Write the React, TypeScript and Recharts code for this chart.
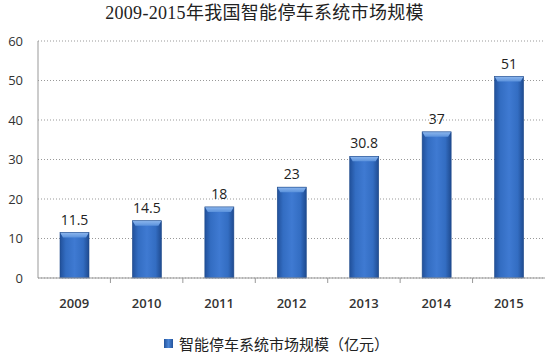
import React from 'react';
import { BarChart, Bar, XAxis, YAxis, CartesianGrid, LabelList, Legend } from 'recharts';

const years = ['2009', '2010', '2011', '2012', '2013', '2014', '2015'];
const marketSize = [11.5, 14.5, 18, 23, 30.8, 37, 51];
const yTicks = [0, 10, 20, 30, 40, 50, 60];
const title = '2009-2015年我国智能停车系统市场规模';
const seriesName = '智能停车系统市场规模（亿元）';

const data = years.map((y, i) => ({ year: y, value: marketSize[i] }));

const BarShape = (props: any) => {
  const { x, y, width, height } = props;
  if (!height || height <= 0) return null;
  const bevel = Math.min(5, height / 2);
  return (
    <g>
      <rect x={x} y={y} width={width} height={height} fill="url(#barGrad)" />
      <polygon
        points={`${x},${y} ${x + width},${y} ${x + width - 3},${y + bevel} ${x + 3},${y + bevel}`}
        fill="url(#topGrad)"
      />
      <rect x={x} y={y} width={width} height={height} fill="none" stroke="#1e4a8a" strokeWidth={0.6} />
    </g>
  );
};

const XTick = (props: any) => {
  const { x, y, payload, index } = props;
  const half = payload && payload.offset ? payload.offset : 36;
  return (
    <g>
      {index < years.length - 1 && (
        <line x1={x + half} y1={y - 8} x2={x + half} y2={y - 3} stroke="#999" strokeWidth={1} />
      )}
      <text
        x={x}
        y={y + 22}
        textAnchor="middle"
        fontSize={13}
        fontWeight={600}
        fill="#333"
        fontFamily="'Open Sans', 'Liberation Sans', sans-serif"
      >
        {payload.value}
      </text>
    </g>
  );
};

const LegendContent = () => (
  <div style={{ display: 'flex', justifyContent: 'center', alignItems: 'center' }}>
    <span
      style={{
        display: 'inline-block',
        width: 9,
        height: 9,
        background: 'linear-gradient(90deg,#24549c,#4a85d6,#24549c)',
        marginRight: 6,
      }}
    />
    <span style={{ fontSize: 15, color: '#222', fontFamily: "'Noto Sans CJK SC', sans-serif" }}>{seriesName}</span>
  </div>
);

export default function App() {
  return (
    <div style={{ position: 'absolute', left: 0, top: 0, width: 551, height: 363, background: '#fff' }}>
      <div
        style={{
          position: 'absolute',
          top: 0,
          left: 0,
          width: 551,
          textAlign: 'center',
          fontSize: 18,
          letterSpacing: 0.3,
          lineHeight: '26px',
          color: '#222',
          fontFamily: "'Liberation Serif', 'Noto Sans CJK SC', serif",
          paddingRight: 22,
          boxSizing: 'border-box',
        }}
      >
        {title}
      </div>
      <BarChart
        width={551}
        height={363}
        data={data}
        margin={{ top: 41, right: 6, left: 8, bottom: 0 }}
        barSize={29}
      >
        <defs>
          <linearGradient id="barGrad" x1="0" y1="0" x2="1" y2="0">
            <stop offset="0%" stopColor="#21509a" />
            <stop offset="20%" stopColor="#336dc2" />
            <stop offset="50%" stopColor="#3f7ad2" />
            <stop offset="80%" stopColor="#336dc2" />
            <stop offset="100%" stopColor="#1f4b90" />
          </linearGradient>
          <linearGradient id="topGrad" x1="0" y1="0" x2="0" y2="1">
            <stop offset="0%" stopColor="#8db7ee" />
            <stop offset="100%" stopColor="#5b92dc" />
          </linearGradient>
        </defs>
        <CartesianGrid vertical={false} stroke="#999" strokeDasharray="1 2" />
        <XAxis
          dataKey="year"
          height={55}
          axisLine={{ stroke: '#999' }}
          tickLine={false}
          tick={<XTick />}
          interval={0}
        />
        <YAxis
          width={30}
          domain={[0, 60]}
          ticks={yTicks}
          axisLine={{ stroke: '#999' }}
          tickLine={false}
          tickMargin={9}
          tick={{ fontSize: 13, fill: '#333', fontFamily: "'Open Sans', 'Liberation Sans', sans-serif" }}
          interval={0}
        />
        <Legend verticalAlign="bottom" height={30} content={<LegendContent />} />
        <Bar dataKey="value" name={seriesName} isAnimationActive={false} shape={<BarShape />}>
          <LabelList
            dataKey="value"
            position="top"
            offset={8}
            fontSize={14}
            fill="#222"
            fontFamily="'Open Sans', 'Liberation Sans', sans-serif"
          />
        </Bar>
      </BarChart>
    </div>
  );
}
